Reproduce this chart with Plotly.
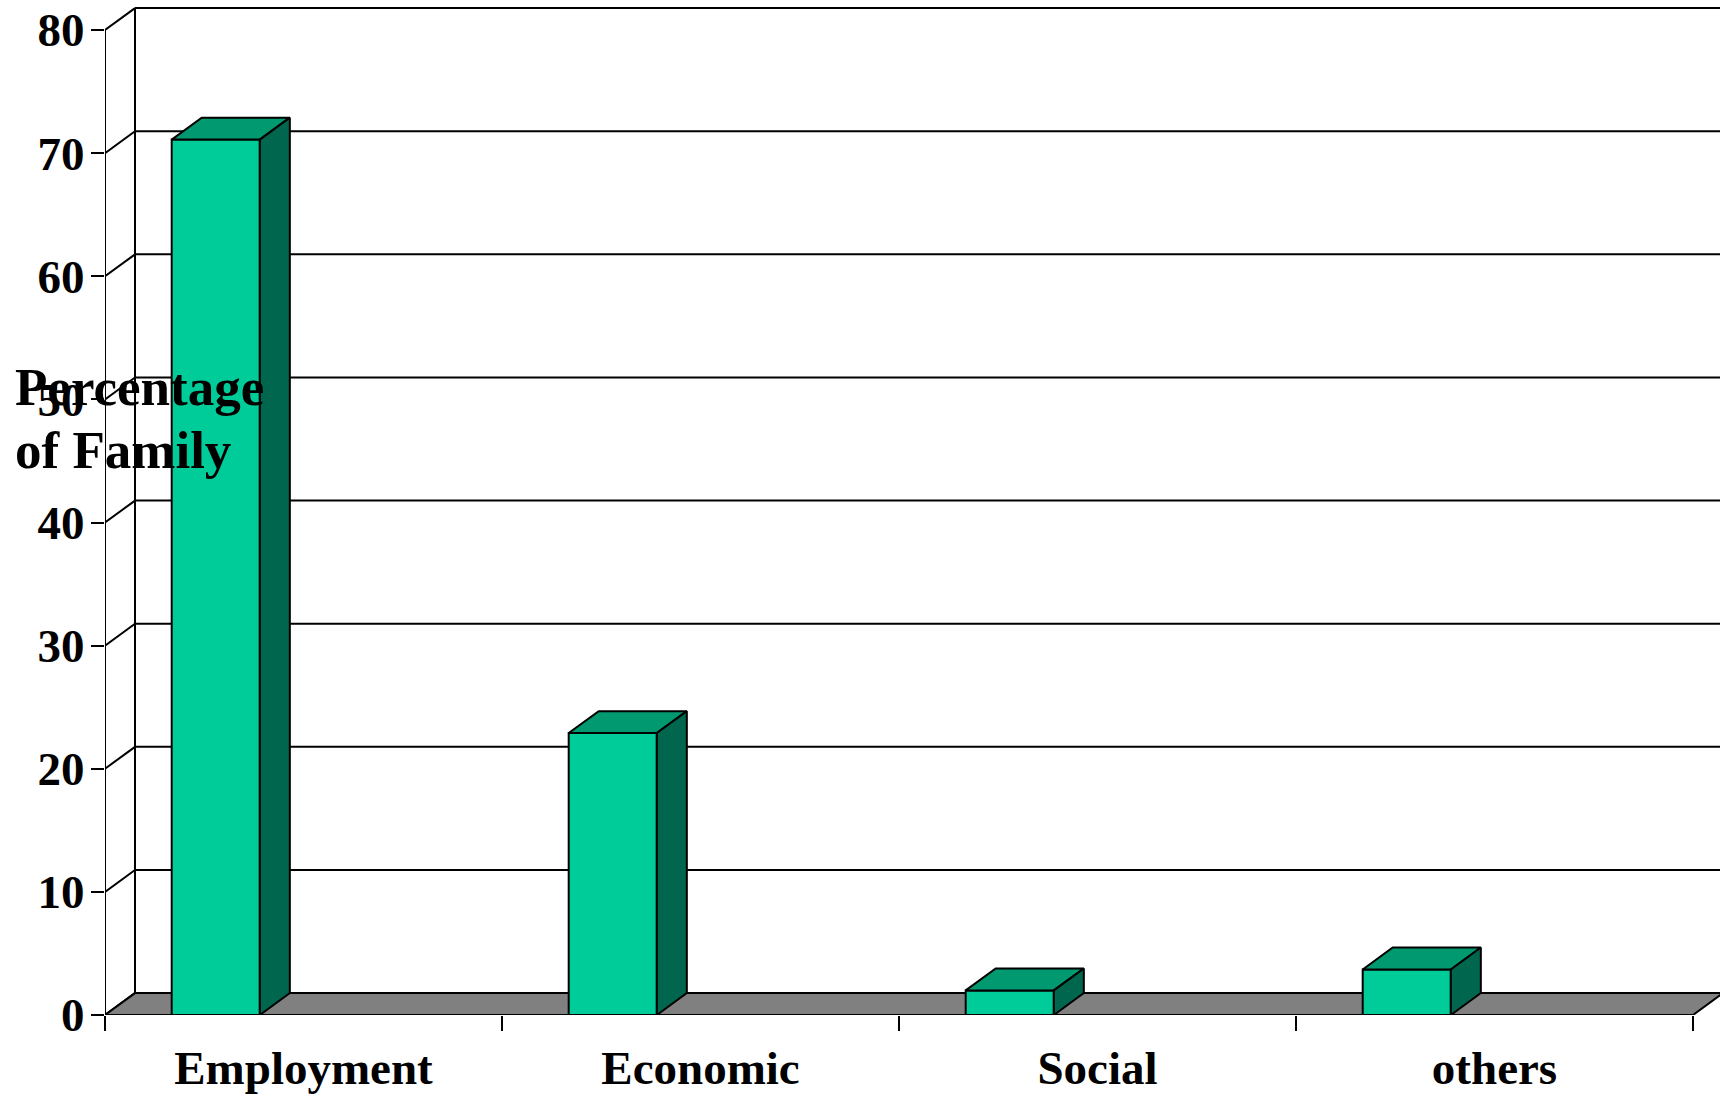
import plotly.graph_objects as go

# ---- data ----
categories = ["Employment", "Economic", "Social", "others"]
percent_family = [71.1, 22.9, 2.0, 3.7]
y_tick_values = [0, 10, 20, 30, 40, 50, 60, 70, 80]
y_title_lines = ["Percentage", "of Family"]

# ---- geometry / style ----
DX = 30 / 397.0      # depth offset in x units
DY = 1.78            # depth offset in y units
BAR_W = 0.222
BAR_OFF = -0.332
X0 = -0.5
X1 = len(categories) - 0.5
X_RANGE = [X0, X0 + 1615 / 397.0]
Y_RANGE = [0, 1015 / 12.3125]

FRONT = "#00CC99"
TOP = "#009970"
SIDE = "#00664E"
FLOOR = "#808080"
FONT = "Liberation Serif"
LW = 2

fig = go.Figure()

# back-wall gridlines (incl. top edge)
gx, gy = [], []
for v in y_tick_values:
    gx += [X0 + DX, X1 + DX, None]
    gy += [v + DY, v + DY, None]
fig.add_trace(go.Scatter(x=gx, y=gy, mode="lines", line=dict(color="black", width=2),
                         hoverinfo="skip", zorder=0))

# left back-wall edge and depth connectors
cx, cy = [X0 + DX, X0 + DX, None], [DY, y_tick_values[-1] + DY, None]
for v in y_tick_values:
    cx += [X0, X0 + DX, None]
    cy += [v, v + DY, None]
fig.add_trace(go.Scatter(x=cx, y=cy, mode="lines", line=dict(color="black", width=2),
                         hoverinfo="skip", zorder=0))

# floor
fig.add_trace(go.Scatter(x=[X0, X1, X1 + DX, X0 + DX, X0], y=[0, 0, DY, DY, 0],
                         mode="lines", fill="toself", fillcolor=FLOOR,
                         line=dict(color="black", width=LW), hoverinfo="skip", zorder=1))

# front faces
fig.add_trace(go.Bar(x=list(range(len(categories))), y=percent_family, width=BAR_W, offset=BAR_OFF,
                     marker=dict(color=FRONT, line=dict(color="black", width=LW)),
                     hoverinfo="skip", zorder=2))

# top and side faces
for i, v in enumerate(percent_family):
    xl = i + BAR_OFF
    xr = xl + BAR_W
    fig.add_trace(go.Scatter(x=[xl, xr, xr + DX, xl + DX, xl], y=[v, v, v + DY, v + DY, v],
                             mode="lines", fill="toself", fillcolor=TOP,
                             line=dict(color="black", width=LW), hoverinfo="skip", zorder=3))
    fig.add_trace(go.Scatter(x=[xr, xr, xr + DX, xr + DX, xr], y=[0, v, v + DY, DY, 0],
                             mode="lines", fill="toself", fillcolor=SIDE,
                             line=dict(color="black", width=LW), hoverinfo="skip", zorder=3))

# front value-axis line
fig.add_trace(go.Scatter(x=[X0, X0], y=[0, y_tick_values[-1]], mode="lines",
                         line=dict(color="black", width=LW), hoverinfo="skip", zorder=4))

fig.update_layout(
    width=1720, height=1094,
    margin=dict(l=105, r=0, t=0, b=79),
    paper_bgcolor="white", plot_bgcolor="white",
    showlegend=False,
    font=dict(family=FONT, size=47, color="black", weight="bold"),
    xaxis=dict(range=X_RANGE, tickmode="array", tickvals=list(range(len(categories))),
               ticktext=categories, ticks="outside", ticklen=12, tickcolor="rgba(0,0,0,0)",
               showline=False, showgrid=False, zeroline=False, automargin=False,
               tickfont=dict(family=FONT, size=47, color="black", weight="bold"),
               minor=dict(tickmode="array", tickvals=[X0 + k for k in range(len(categories) + 1)],
                          ticks="outside", ticklen=15, tickwidth=LW, tickcolor="black", showgrid=False)),
    yaxis=dict(range=Y_RANGE, tickmode="array", tickvals=y_tick_values,
               ticks="outside", ticklen=13, tickwidth=LW, tickcolor="black",
               ticklabelstandoff=-3,
               showline=False, showgrid=False, zeroline=False, automargin=False,
               tickfont=dict(family=FONT, size=47, color="black", weight="bold")),
)

for line, ypx in zip(y_title_lines, [387, 450]):
    fig.add_annotation(text=line, xref="paper", yref="paper",
                       x=(13 - 105) / 1615.0, y=(1015 - ypx) / 1015.0,
                       xanchor="left", yanchor="middle", showarrow=False,
                       font=dict(family=FONT, size=53, color="black", weight="bold"))

fig.write_html("out.html")
